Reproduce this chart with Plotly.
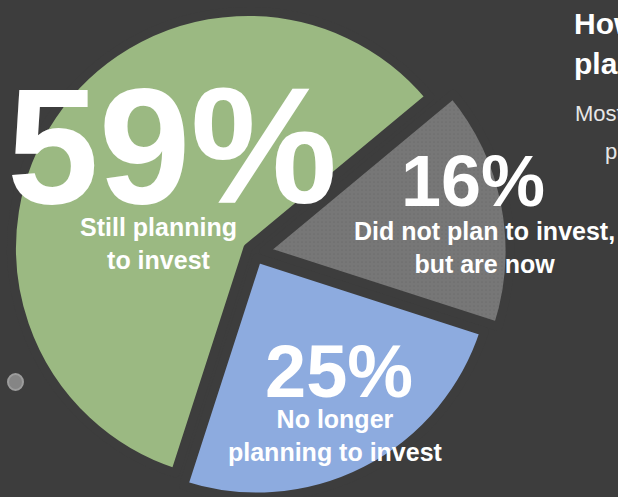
import plotly.graph_objects as go

# ---- data ----
categories = ["Still planning to invest", "Did not plan to invest, but are now", "No longer planning to invest"]
values = [59, 16, 25]
pct_labels = ["59%", "16%", "25%"]
label_lines = [["Still planning", "to invest"],
               ["Did not plan to invest,", "but are now"],
               ["No longer", "planning to invest"]]
title_lines = ["How have investors'", "plans changed?"]
subtitle_lines = ["Most respondents say they are", "planning to invest"]

# ---- style / layout constants ----
W, H = 618, 497
BG = "#3d3d3d"
colors = ["#9bb982", "#777777", "#8dabdf"]
# wedge centres (px from top-left) and radii (px): each wedge is offset like an exploded pie
centres = [(248, 248), (264, 251), (257, 258)]
radii = [236.5, 246, 239]
gap_line = 9
start_of_gray = 50.3  # degrees clockwise from 12 o'clock

# clockwise order on the dial: gray, blue, green
order = [1, 2, 0]
starts = {}
a = start_of_gray
for i in order:
    starts[i] = a
    a += values[i] * 3.6


def wrap(d):
    d = d % 360
    return d - 360 if d > 180 else d


def dom(cx, cy, r):
    x0 = max(0.0, (cx - r) / W)
    x1 = min(1.0, (cx + r) / W)
    y0 = max(0.0, (H - cy - r) / H)
    y1 = min(1.0, (H - cy + r) / H)
    return dict(x=[x0, x1], y=[y0, y1])


fig = go.Figure()
total = sum(values)
for i in range(len(values)):
    cx, cy = centres[i]
    marker = dict(
        colors=[colors[i], "rgba(0,0,0,0)"],
        line=dict(color=[BG, "rgba(0,0,0,0)"], width=[gap_line, 0]),
    )
    if i == 1:
        marker["pattern"] = dict(shape=[".", ""], fgcolor="#6e6e6e", bgcolor=colors[i],
                                 size=4, solidity=0.15, fillmode="replace")
    fig.add_trace(go.Pie(
        values=[values[i], total - values[i]],
        labels=[categories[i], "rest"],
        sort=False,
        direction="clockwise",
        rotation=wrap(starts[i]),
        textinfo="none",
        hoverinfo="skip",
        showlegend=False,
        domain=dom(cx, cy, radii[i]),
        marker=marker,
    ))

FONT = "Liberation Sans, Arial, Helvetica, sans-serif"


def px(x, y):
    return x / W, 1 - y / H


annos = []
# big percentages
pct_pos = [(172, 146, 165), (473, 181, 72), (339, 371, 74)]
for i, (x, y, s) in enumerate(pct_pos):
    ax, ay = px(x, y)
    annos.append(dict(text=pct_labels[i], x=ax, y=ay, xref="paper", yref="paper",
                      xanchor="center", yanchor="middle", showarrow=False,
                      font=dict(family=FONT, size=s, color="white", weight="bold")))
# category labels
lab_pos = [(158, 243, 25), (484, 248, 25), (335, 435, 25)]
for i, (x, y, s) in enumerate(lab_pos):
    ax, ay = px(x, y)
    annos.append(dict(text="<br>".join(label_lines[i]), x=ax, y=ay, xref="paper", yref="paper",
                      xanchor="center", yanchor="middle", showarrow=False, align="center",
                      font=dict(family=FONT, size=s, color="white", weight="bold")))
# title (cut off at the right edge)
for (x, y), t in zip([(572, 24), (572, 63)], title_lines):
    ax, ay = px(x, y)
    annos.append(dict(text=t, x=ax, y=ay, xref="paper", yref="paper",
                      xanchor="left", yanchor="middle", showarrow=False,
                      font=dict(family=FONT, size=30, color="white", weight="bold")))
# subtitle
for (x, y), t in zip([(573, 114), (603, 151)], subtitle_lines):
    ax, ay = px(x, y)
    annos.append(dict(text=t, x=ax, y=ay, xref="paper", yref="paper",
                      xanchor="left", yanchor="middle", showarrow=False,
                      font=dict(family=FONT, size=22, color="#e6e6e6")))

fig.update_layout(
    width=W, height=H,
    margin=dict(l=0, r=0, t=0, b=0),
    paper_bgcolor=BG, plot_bgcolor=BG,
    annotations=annos,
    shapes=[dict(type="circle", xref="paper", yref="paper",
                 x0=8 / W, x1=23 / W, y0=1 - 390 / H, y1=1 - 374 / H,
                 fillcolor="#858585", line=dict(color="#9c9c9c", width=2))],
)

fig.write_html("out.html", config={"displayModeBar": False},
               post_script="document.body.style.margin='0';document.body.style.overflow='hidden';")
